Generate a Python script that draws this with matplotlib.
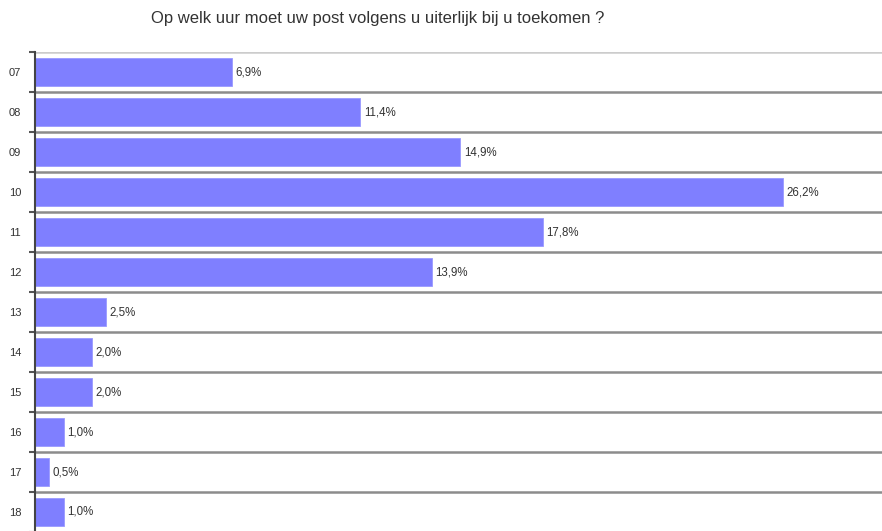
import matplotlib
matplotlib.use("Agg")
import matplotlib.pyplot as plt
from matplotlib.ticker import FixedLocator, NullFormatter

categories = ["07", "08", "09", "10", "11", "12", "13", "14", "15", "16", "17", "18"]
values = [6.9, 11.4, 14.9, 26.2, 17.8, 13.9, 2.5, 2.0, 2.0, 1.0, 0.5, 1.0]
title = "Op welk uur moet uw post volgens u uiterlijk bij u toekomen ?"

plt.rcParams['font.family'] = ['Liberation Sans', 'DejaVu Sans']

W, H = 882, 531
fig = plt.figure(figsize=(W / 100, H / 100), dpi=100)
ax_left = 35 / W
ax_top = 52
ax_bot = 532
ax = fig.add_axes([ax_left, (H - ax_bot) / H, 1 - ax_left, (ax_bot - ax_top) / H])

n = len(categories)
ys = list(range(n))
ax.barh(ys, values, height=0.68, color="#7f7fff", edgecolor="#9a9aff", linewidth=0.6, zorder=3)
ax.set_ylim(n - 0.5, -0.5)
ax.set_xlim(0, (W - 35) / 28.55)

for y, v in zip(ys, values):
    ax.text(v + 0.12, y, f"{v:.1f}%".replace(".", ","), va="center", ha="left",
            fontsize=8.3, color="#333333")

ax.set_yticks(ys)
ax.set_yticklabels(categories, fontsize=8, color="#333333")
ax.tick_params(axis="y", which="major", length=0, pad=10)
ax.yaxis.set_minor_locator(FixedLocator([i - 0.5 for i in range(n + 1)]))
ax.yaxis.set_minor_formatter(NullFormatter())
ax.tick_params(axis="y", which="minor", length=4, width=1.5, color="#555555")
ax.set_xticks([])

for b in [i + 0.5 for i in range(n - 1)]:
    ax.axhline(b, color="#8c8c8c", linewidth=1.8, zorder=1)
ax.axhline(-0.5, color="#cccccc", linewidth=1.8, zorder=1)

for s in ["top", "right", "bottom"]:
    ax.spines[s].set_visible(False)
ax.spines["left"].set_color("#444444")
ax.spines["left"].set_linewidth(1.5)
ax.spines["left"].set_zorder(4)

fig.text(378 / W, 1 - 18 / H, title, ha="center", va="center", fontsize=12, color="#333333")

fig.savefig("out.png", dpi=100)
